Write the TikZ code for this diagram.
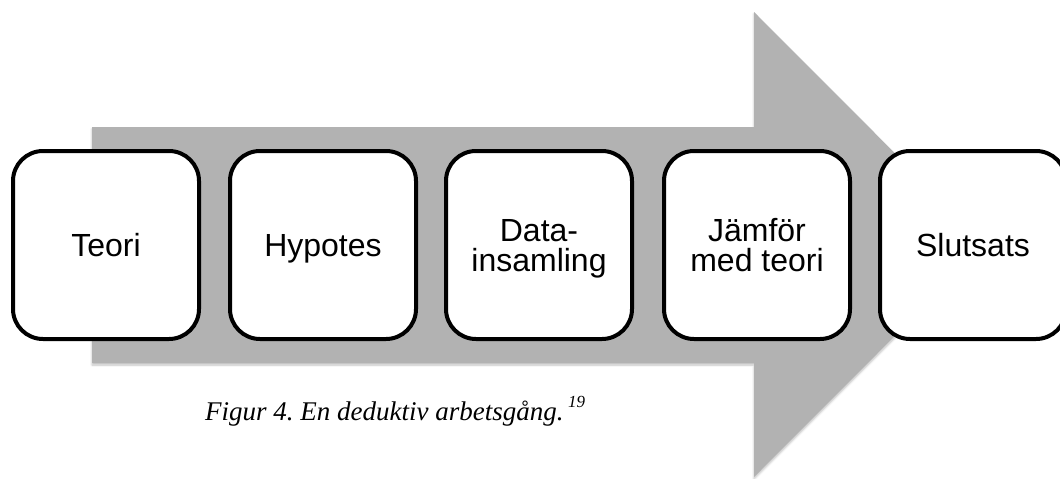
\documentclass[tikz,border=0pt]{standalone}
\usepackage{fontspec}
\setmainfont{Liberation Sans}
\newfontfamily\capfont{Liberation Serif}
\usetikzlibrary{shadows,shadows.blur}
\frenchspacing
\begin{document}
\begin{tikzpicture}[x=1pt,y=-1pt,
  stepbox/.style={draw=black, line width=4pt, fill=white, rounded corners=30pt,
    minimum width=186pt, minimum height=188pt, align=center,
    font=\fontsize{32}{30}\selectfont, inner sep=0pt, text depth=0pt},
  bigarrow/.style={fill=black!30, draw=none,
    blur shadow={shadow xshift=0pt, shadow yshift=-2pt, shadow blur steps=6, shadow opacity=25}}]
\useasboundingbox (0,0) rectangle (1060,479);
% broad process arrow behind the steps
\path[bigarrow] (92,127) -- (754,127) -- (754,12) -- (986,244.5)
  -- (754,477) -- (754,363) -- (92,363) -- cycle;
% the five steps
\node[stepbox] (teori) at (106,245) {Teori};
\node[stepbox] (hyp)   at (323,245) {Hypotes};
\node[stepbox] (data)  at (539,245) {Data-\\insamling};
\node[stepbox] (jmf)   at (757,245) {Jämför\\med teori};
\node[stepbox] (slut)  at (973,245) {Slutsats};
% caption
\node[anchor=base west, inner sep=0pt, font=\capfont\itshape\fontsize{27}{30}\selectfont]
  (cap) at (205,420) {Figur 4. En deduktiv arbetsgång.\,\raisebox{0.45em}{\fontsize{17}{20}\selectfont 19}};
\end{tikzpicture}
\end{document}
